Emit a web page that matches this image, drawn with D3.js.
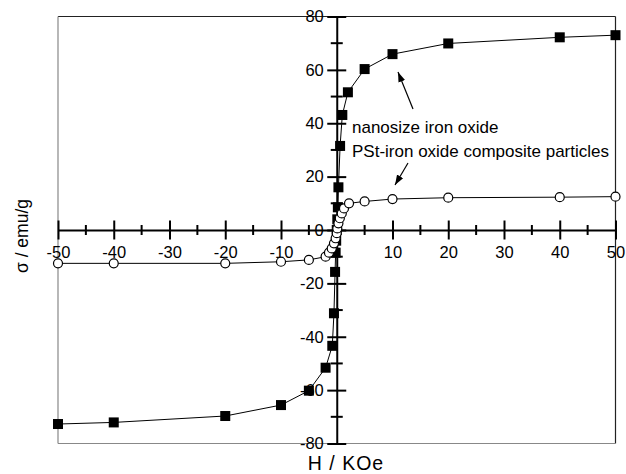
<!DOCTYPE html>
<html>
<head>
<meta charset="utf-8">
<script src="https://cdn.jsdelivr.net/npm/d3@7"></script>
<style>
  body { margin: 0; background: #fff; }
  svg { font-family: "Liberation Sans", Arial, sans-serif; }
</style>
</head>
<body>
<div class="root"></div>
<script>
// nanosize iron oxide (filled squares)
var ironH = [-50, -40, -20, -10, -5, -2, -0.8, -0.5, -0.3, -0.2, -0.1, 0, 0.1, 0.2, 0.3, 0.6, 1, 2, 5, 10, 20, 40, 50];
var ironSigma = [-72.7, -72.1, -69.7, -65.6, -60.2, -51.6, -43.4, -31.2, -15.7, -8.5, -4, 0, 4, 8.5, 16, 31.5, 43.1, 51.6, 60.3, 65.9, 69.9, 72.2, 73];

// PSt-iron oxide composite particles (open circles)
var compH = [-50, -40, -20, -10, -5, -2, -1.4, -0.9, -0.5, -0.2, 0, 0.1, 0.3, 0.55, 0.9, 1.3, 2.2, 5, 10, 20, 40, 50];
var compSigma = [-12.5, -12.5, -12.5, -11.9, -11.2, -10, -8.5, -6.9, -5, -3.1, -1.2, 0.6, 2.5, 4.4, 6.2, 8.1, 10, 10.7, 11.6, 12.1, 12.3, 12.5];

var xMajor = [-50, -40, -30, -20, -10, 10, 20, 30, 40, 50];
var xMinor = [-45, -35, -25, -15, -5, 5, 15, 25, 35, 45];
var yMajor = [-80, -60, -40, -20, 0, 20, 40, 60, 80];
var yMinor = [-70, -50, -30, -10, 10, 30, 50, 70];

function drawChart() {
  var w = 626, h = 474;

  var svg = d3.select('.root').append('svg')
    .attr('width', w)
    .attr('height', h);

  var x = d3.scaleLinear().domain([-50, 50]).range([58, 615.5]);
  var y = d3.scaleLinear().domain([-80, 80]).range([443.5, 16.5]);

  // plain hyphen minus, like the original figure
  var plain = function(d) { return String(d); };

  // frame
  svg.append('line').attr('x1', x(-50)).attr('x2', x(50)).attr('y1', y(80)).attr('y2', y(80))
    .style('stroke', '#222').style('stroke-width', 1.2);
  svg.append('line').attr('x1', x(50)).attr('x2', x(50)).attr('y1', y(80)).attr('y2', y(-80))
    .style('stroke', '#222').style('stroke-width', 1.2);
  svg.append('line').attr('x1', x(-50)).attr('x2', x(-50)).attr('y1', y(80)).attr('y2', y(-80))
    .style('stroke', '#888').style('stroke-width', 1.2);
  svg.append('line').attr('x1', x(-50)).attr('x2', x(50)).attr('y1', y(-80)).attr('y2', y(-80))
    .style('stroke', '#888').style('stroke-width', 1.2);

  // x axis through y = 0, ticks cross the line
  var xAxis = svg.append('g')
    .attr('transform', 'translate(0,' + y(0) + ')')
    .call(d3.axisBottom(x).tickValues(xMajor).tickFormat(plain).tickSize(0).tickPadding(0));
  xAxis.select('.domain').style('stroke', '#000').style('stroke-width', 2);
  xAxis.selectAll('.tick line').attr('y1', -9.5).attr('y2', 9.5)
    .style('stroke', '#000').style('stroke-width', 2);
  xAxis.selectAll('.tick text').attr('y', 28).attr('dy', 0)
    .style('font-size', '16.5px').style('fill', '#000');
  xAxis.selectAll('.minor').data(xMinor).enter().append('line')
    .attr('x1', function(d) { return x(d); })
    .attr('x2', function(d) { return x(d); })
    .attr('y1', -5).attr('y2', 5)
    .style('stroke', '#000').style('stroke-width', 2);

  // y axis through x = 0
  var yAxis = svg.append('g')
    .attr('transform', 'translate(' + x(0) + ',0)')
    .call(d3.axisLeft(y).tickValues(yMajor).tickFormat(plain).tickSize(0).tickPadding(13));
  yAxis.select('.domain').style('stroke', '#000').style('stroke-width', 2);
  yAxis.selectAll('.tick line').attr('x1', -9.5).attr('x2', 9.5)
    .style('stroke', '#000').style('stroke-width', 2);
  yAxis.selectAll('.tick text')
    .style('font-size', '16.5px').style('fill', '#000');
  yAxis.selectAll('.minor').data(yMinor).enter().append('line')
    .attr('y1', function(d) { return y(d); })
    .attr('y2', function(d) { return y(d); })
    .attr('x1', -6).attr('x2', 6)
    .style('stroke', '#000').style('stroke-width', 2);

  var line = d3.line()
    .x(function(d) { return x(d[0]); })
    .y(function(d) { return y(d[1]); });

  var ironData = d3.zip(ironH, ironSigma);
  var compData = d3.zip(compH, compSigma);

  svg.append('path').datum(ironData)
    .attr('d', line)
    .style('fill', 'none').style('stroke', '#000').style('stroke-width', 1);
  svg.append('path').datum(compData)
    .attr('d', line)
    .style('fill', 'none').style('stroke', '#000').style('stroke-width', 1);

  svg.append('g').selectAll('rect').data(ironData).enter().append('rect')
    .attr('x', function(d) { return x(d[0]) - 5; })
    .attr('y', function(d) { return y(d[1]) - 5; })
    .attr('width', 10).attr('height', 10)
    .style('fill', '#000');

  svg.append('g').selectAll('circle').data(compData).enter().append('circle')
    .attr('cx', function(d) { return x(d[0]); })
    .attr('cy', function(d) { return y(d[1]); })
    .attr('r', 4.5)
    .style('fill', '#fff').style('stroke', '#000').style('stroke-width', 1.2);

  // annotations
  svg.append('text').attr('x', 352).attr('y', 133)
    .style('font-size', '17px').text('nanosize iron oxide');
  svg.append('text').attr('x', 352).attr('y', 157)
    .style('font-size', '17px').text('PSt-iron oxide composite particles');

  svg.append('defs').append('marker')
    .attr('id', 'arrow')
    .attr('viewBox', '0 0 10 10')
    .attr('refX', 10).attr('refY', 5)
    .attr('markerWidth', 10).attr('markerHeight', 10)
    .attr('markerUnits', 'userSpaceOnUse')
    .attr('orient', 'auto')
    .append('path').attr('d', 'M0,1.5 L10,5 L0,8.5 Z').style('fill', '#000');

  svg.append('line').attr('x1', 413).attr('y1', 109).attr('x2', 398).attr('y2', 72)
    .style('stroke', '#000').style('stroke-width', 1.2).attr('marker-end', 'url(#arrow)');
  svg.append('line').attr('x1', 408).attr('y1', 163).attr('x2', 395).attr('y2', 185)
    .style('stroke', '#000').style('stroke-width', 1.2).attr('marker-end', 'url(#arrow)');

  // axis titles
  svg.append('text')
    .attr('x', 346).attr('y', 470)
    .attr('text-anchor', 'middle')
    .style('font-size', '19.5px')
    .style('letter-spacing', '1px')
    .text('H / KOe');

  svg.append('text')
    .attr('transform', 'translate(28,236) rotate(-90)')
    .attr('text-anchor', 'middle')
    .style('font-size', '17.5px')
    .text('σ / emu/g');
}

window.onload = function() {
  drawChart();
};
</script>
</body>
</html>
